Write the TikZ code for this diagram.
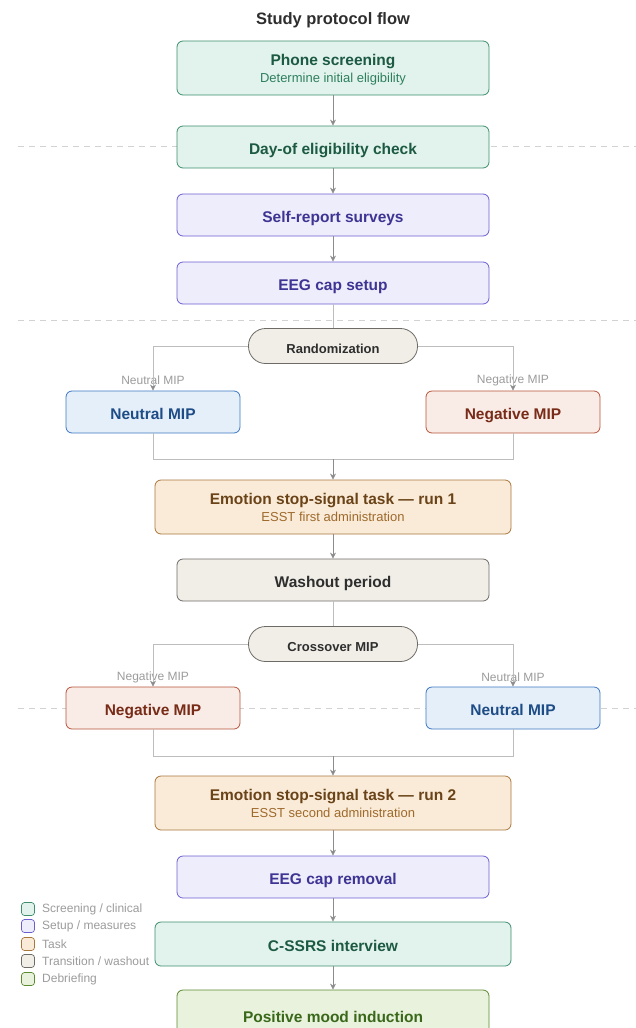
\documentclass[tikz,border=0pt]{standalone}
\usepackage{fontspec}
\setmainfont{Liberation Sans}
\usetikzlibrary{arrows.meta}

\definecolor{scrfill}{HTML}{E1F3EC}
\definecolor{scrline}{HTML}{3F8D6D}
\definecolor{scrtext}{HTML}{1D5A43}
\definecolor{scrsub}{HTML}{2F7F5F}
\definecolor{setfill}{HTML}{EEEDFB}
\definecolor{setline}{HTML}{6B5FD0}
\definecolor{settext}{HTML}{3E3494}
\definecolor{taskfill}{HTML}{FAEBD8}
\definecolor{taskline}{HTML}{A8773E}
\definecolor{tasktext}{HTML}{6A4418}
\definecolor{tasksub}{HTML}{9E6A2C}
\definecolor{trfill}{HTML}{F1EEE8}
\definecolor{trline}{HTML}{6E6B66}
\definecolor{trtext}{HTML}{2E2E2E}
\definecolor{neufill}{HTML}{E5EFFA}
\definecolor{neuline}{HTML}{3B78C1}
\definecolor{neutext}{HTML}{1E4C86}
\definecolor{negfill}{HTML}{F9EBE6}
\definecolor{negline}{HTML}{B6553A}
\definecolor{negtext}{HTML}{782C18}
\definecolor{debfill}{HTML}{E8F2DC}
\definecolor{debline}{HTML}{5B8A31}
\definecolor{debtext}{HTML}{3A681B}
\definecolor{flowgray}{HTML}{8C8C8C}
\definecolor{branchgray}{HTML}{BDBDBD}
\definecolor{labelgray}{HTML}{9B9B9B}
\definecolor{sepgray}{HTML}{D2D2D2}

\newcommand{\subline}[2]{{\fontsize{13}{15}\selectfont\mdseries\color{#1}#2}}

\tikzset{
  box/.style={rectangle, rounded corners=6pt, line width=0.8pt, align=center,
    inner sep=0pt, minimum width=312pt, minimum height=42pt,
    font=\fontsize{15.5}{17}\selectfont\bfseries},
  oneline/.style={text height=14pt, text depth=0pt},
  widebox/.style={box, minimum width=356pt},
  tallbox/.style={minimum height=54pt, text depth=-2pt},
  mipbox/.style={box, oneline, minimum width=174pt},
  pill/.style={rectangle, rounded corners=17pt, line width=0.8pt, inner sep=0pt,
    minimum width=169pt, minimum height=35pt, font=\fontsize{13}{15}\selectfont\bfseries,
    text height=15pt, text depth=0pt, fill=trfill, draw=trline, text=trtext},
  screen/.style={fill=scrfill, draw=scrline, text=scrtext},
  setup/.style={fill=setfill, draw=setline, text=settext},
  task/.style={fill=taskfill, draw=taskline, text=tasktext},
  trans/.style={fill=trfill, draw=trline, text=trtext},
  neutral/.style={fill=neufill, draw=neuline, text=neutext},
  negative/.style={fill=negfill, draw=negline, text=negtext},
  debrief/.style={fill=debfill, draw=debline, text=debtext},
  arrow/.style={draw=flowgray, line width=0.8pt, -{Stealth[length=6pt,width=6pt]}},
  branch/.style={draw=branchgray, line width=0.8pt},
  brarrow/.style={branch, -{Stealth[length=6pt,width=6pt,color=flowgray]}},
  brlabel/.style={font=\fontsize{12}{14}\selectfont, text=labelgray, inner sep=0pt},
  sep/.style={draw=sepgray, line width=0.7pt, dash pattern=on 6pt off 5pt},
  legbox/.style={rectangle, rounded corners=3pt, line width=0.7pt, inner sep=0pt,
    minimum width=13pt, minimum height=13pt},
  legtext/.style={font=\fontsize{12}{14}\selectfont, text=labelgray, inner sep=0pt, anchor=west}
}

\begin{document}
\begin{tikzpicture}[x=1pt, y=-1pt]
  \useasboundingbox (0,0) rectangle (636,1028);

  % phase separators
  \draw[sep] (18,146) -- (636,146);
  \draw[sep] (18,320) -- (636,320);
  \draw[sep] (18,708) -- (636,708);

  \node[font=\fontsize{16.5}{18}\selectfont\bfseries, text=trtext] (title) at (333,20) {Study protocol flow};

  % screening and setup
  \node[box, tallbox, screen] (phone) at (333,68)
    {Phone screening\\[0pt]\subline{scrsub}{Determine initial eligibility}};
  \node[box, oneline, screen] (dayof) at (333,147) {Day-of eligibility check};
  \node[box, oneline, setup] (surveys) at (333,215) {Self-report surveys};
  \node[box, oneline, setup] (capon) at (333,283) {EEG cap setup};

  % first MIP block
  \node[pill] (rand) at (333,346) {Randomization};
  \node[mipbox, neutral] (neu1) at (153,412) {Neutral MIP};
  \node[mipbox, negative] (neg1) at (513,412) {Negative MIP};
  \node[brlabel] (neu1lab) at (153,380) {Neutral MIP};
  \node[brlabel] (neg1lab) at (513,380) {Negative MIP};
  \coordinate (merge1) at (333,459);

  \node[widebox, tallbox, task] (run1) at (333,507)
    {Emotion stop-signal task --- run 1\\[0pt]\subline{tasksub}{ESST first administration}};
  \node[box, oneline, trans] (washout) at (333,580) {Washout period};

  % crossover block
  \node[pill] (cross) at (333,644) {Crossover MIP};
  \node[mipbox, negative] (neg2) at (153,708) {Negative MIP};
  \node[mipbox, neutral] (neu2) at (513,708) {Neutral MIP};
  \node[brlabel] (neg2lab) at (153,677) {Negative MIP};
  \node[brlabel] (neu2lab) at (513,677) {Neutral MIP};
  \coordinate (merge2) at (333,756);

  \node[widebox, tallbox, task] (run2) at (333,803)
    {Emotion stop-signal task --- run 2\\[0pt]\subline{tasksub}{ESST second administration}};
  \node[box, oneline, setup] (capoff) at (333,877) {EEG cap removal};
  \node[widebox, oneline, minimum height=44pt, screen] (cssrs) at (333,944) {C-SSRS interview};
  \node[box, oneline, minimum height=50pt, debrief] (posmood) at (333,1015) {Positive mood induction};

  % main flow
  \draw[arrow] (phone) -- (dayof);
  \draw[arrow] (dayof) -- (surveys);
  \draw[arrow] (surveys) -- (capon);
  \draw[branch] (capon) -- (rand);
  \draw[brarrow] (rand.west) -| (neu1.north);
  \draw[brarrow] (rand.east) -| (neg1.north);
  \draw[branch] (neu1.south) |- (merge1);
  \draw[branch] (neg1.south) |- (merge1);
  \draw[arrow] (merge1) -- (run1);
  \draw[arrow] (run1) -- (washout);
  \draw[branch] (washout) -- (cross);
  \draw[brarrow] (cross.west) -| (neg2.north);
  \draw[brarrow] (cross.east) -| (neu2.north);
  \draw[branch] (neg2.south) |- (merge2);
  \draw[branch] (neu2.south) |- (merge2);
  \draw[arrow] (merge2) -- (run2);
  \draw[arrow] (run2) -- (capoff);
  \draw[arrow] (capoff) -- (cssrs);
  \draw[arrow] (cssrs) -- (posmood);

  % legend
  \node[legbox, screen] (leg1) at (28,909) {};
  \node[legbox, setup] (leg2) at (28,926) {};
  \node[legbox, task] (leg3) at (28,944) {};
  \node[legbox, trans] (leg4) at (28,961) {};
  \node[legbox, debrief] (leg5) at (28,979) {};
  \node[legtext] (leg1t) at (42,909) {Screening / clinical};
  \node[legtext] (leg2t) at (42,926) {Setup / measures};
  \node[legtext] (leg3t) at (42,944) {Task};
  \node[legtext] (leg4t) at (42,961) {Transition / washout};
  \node[legtext] (leg5t) at (42,979) {Debriefing};
\end{tikzpicture}
\end{document}
